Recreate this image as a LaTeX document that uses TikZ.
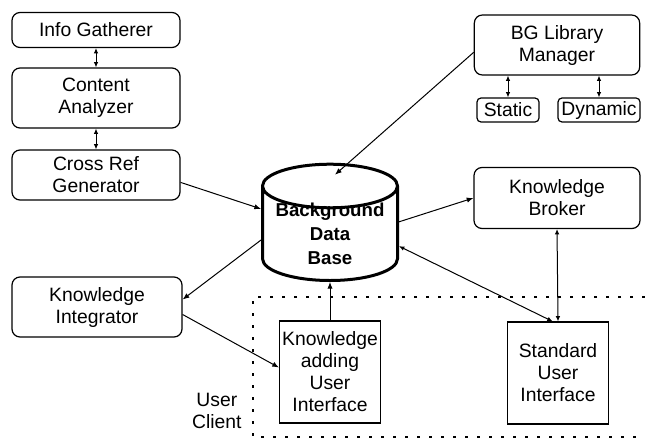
\documentclass[tikz,border=0pt]{standalone}
\usepackage{fontspec}
\setmainfont{Liberation Sans}
\usetikzlibrary{arrows.meta,shapes.geometric,calc}

\tikzset{every picture/.style={line width=0.75pt}}
\tikzset{
  txt/.style={align=center, inner sep=0pt, font=\fontsize{14.5}{16.5}\selectfont},
  rbox/.style={txt, draw, line width=0.9pt, rounded corners=6pt},
  tagbox/.style={txt, draw, line width=0.9pt, rounded corners=3pt, minimum height=18pt},
  sbox/.style={txt, draw, line width=0.9pt, minimum width=75.75pt, minimum height=76.5pt},
  tip/.style={-{Latex[length=5pt,width=4pt]}},
  twotip/.style={{Latex[length=4pt,width=3.5pt]}-{Latex[length=4pt,width=3.5pt]}},
  dotline/.style={line width=2.2pt, dash pattern=on 2.2pt off 6.8pt},
}

\begin{document}
\begin{tikzpicture}[x=0.75pt,y=0.75pt,yscale=-1,xscale=1]
\useasboundingbox (0,0) rectangle (645,439);

% left column
\draw (96,30) node [rbox, minimum width=126pt, minimum height=26.25pt] (info) {Info Gatherer};
\draw (96,98) node [rbox, minimum width=126pt, minimum height=45pt] (content) {Content\\Analyzer};
\draw (96,175) node [rbox, minimum width=126pt, minimum height=37.5pt] (crossref) {Cross Ref\\Generator};
\draw (97,307) node [rbox, minimum width=127.5pt, minimum height=45pt] (integrator) {Knowledge\\Integrator};

% right column
\draw (557,45) node [rbox, minimum width=124pt, minimum height=45pt] (bglib) {BG Library\\Manager};
\draw (508,110) node [tagbox, minimum width=46.5pt] (static) {Static};
\draw (599,110) node [tagbox, minimum width=61.5pt] (dynamic) {Dynamic};
\draw (557,198) node [rbox, minimum width=124.5pt, minimum height=45.75pt] (broker) {Knowledge\\Broker};

% data base
\draw (330,234) node [cylinder, shape border rotate=90, draw, line width=2.25pt,
  minimum width=101.25pt, shape aspect=0.4, inner xsep=0pt, inner ysep=-4.6pt,
  align=center, font=\fontsize{14}{18}\selectfont\bfseries] (db) {Background\\Data\\Base};

% user client
\draw (330,372) node [sbox] (kaui) {Knowledge\\adding\\User\\Interface};
\draw (558,373) node [sbox] (sui) {Standard\\User\\Interface};
\draw (242,411) node [txt, anchor=east] (client) {User\\Client};
\draw [dotline] (645,297) -- (253,297) -- (253,437) -- (645,437);

% connectors
\draw [twotip] (info.south) -- (content.north);
\draw [twotip] (content.south) -- (crossref.north);
\draw [twotip] (static.north |- bglib.south) -- (static.north);
\draw [twotip] (dynamic.north |- bglib.south) -- (dynamic.north);
\draw [tip] (crossref.-5) -- (db.160);
\draw [tip] (bglib.185) -- ($(db.north)+(5,12)$);
\draw [tip] (db.10) -- (broker.west);
\draw [tip] (db.185) -- (integrator.5);
\draw [tip] (integrator.-5) -- (kaui.175);
\draw [tip] (kaui.north) -- (db.south);
\draw [twotip] (db.-10) -- (sui.96);
\draw [twotip] (broker.south) -- (sui.north);

\end{tikzpicture}
\end{document}
